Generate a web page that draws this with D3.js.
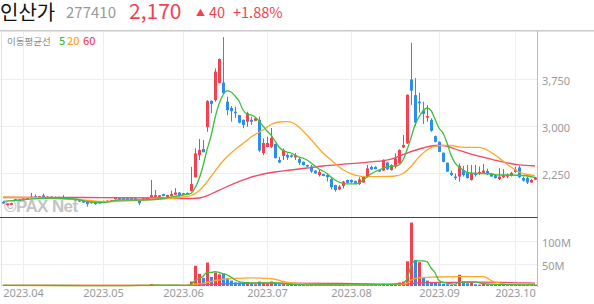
<!DOCTYPE html>
<html>
<head>
<meta charset="utf-8">
<script src="https://cdn.jsdelivr.net/npm/d3@7"></script>
<style>
body { margin: 0; background: #fff; }
svg { display: block; font-family: "Noto Sans CJK KR", "Noto Sans", sans-serif; }
</style>
</head>
<body>
<svg id="chart" width="594" height="304"></svg>
<script>
// daily candles, 2023-03-27 .. 2023-10-12 (one entry per trading day)
var opens = [1780,1730,1735,1825,1820,1810,1820,1840,1870,1840,
  1885,1845,1865,1845,1860,1860,1845,1835,1825,1810,
  1795,1780,1760,1775,1760,1780,1785,1790,1825,1840,
  1840,1840,1840,1840,1795,1815,1830,1855,1860,1860,
  1905,1860,1875,1895,1930,1895,1925,1955,2175,2530,
  2625,2975,3395,3405,3680,3685,3380,3280,3220,3165,
  3090,3060,3090,3075,3090,2560,2655,2660,2705,2450,
  2515,2530,2525,2490,2465,2420,2370,2345,2280,2210,
  2225,2210,2145,2050,1980,2035,2130,2130,2115,2065,
  2090,2185,2340,2340,2290,2280,2410,2290,2345,2395,
  2650,2715,3735,3485,3380,3245,3130,3090,2830,2740,
  2565,2405,2245,2185,2185,2290,2245,2130,2245,2240,
  2245,2275,2235,2205,2145,2175,2185,2195,2260,2330,
  2160,2160,2090,2135];
var highs = [1795,1760,1770,1830,1825,1840,1845,1925,1900,1875,
  1915,1870,1870,1865,1865,1890,1850,1850,1830,1815,
  1800,1790,1790,1785,1785,1800,1805,1810,1860,1845,
  1845,1845,1845,1850,1800,1845,1850,2130,1970,1890,
  1910,1895,1960,2000,1940,1925,1930,2340,2635,2785,
  2770,3405,3400,3910,4070,4410,3460,3310,3300,3170,
  3095,3220,3140,3130,3140,2795,2820,2960,2710,2500,
  2635,2555,2540,2560,2500,2425,2375,2370,2285,2290,
  2230,2235,2160,2055,2050,2115,2135,2140,2120,2175,
  2195,2370,2360,2350,2295,2460,2420,2380,2555,2620,
  2850,3495,4320,3755,3525,3380,3325,3115,2840,2745,
  2570,2410,2280,2235,2395,2355,2370,2370,2370,2345,
  2385,2310,2240,2210,2320,2305,2235,2260,2340,2355,
  2185,2185,2150,2180];
var lows = [1750,1725,1730,1795,1800,1805,1815,1830,1835,1835,
  1825,1840,1850,1840,1845,1825,1830,1830,1800,1780,
  1765,1705,1755,1735,1755,1775,1780,1785,1820,1810,
  1825,1825,1825,1825,1730,1810,1825,1850,1855,1855,
  1870,1855,1870,1890,1865,1890,1900,1945,2170,2450,
  2570,2900,3200,3380,3670,3505,3165,3060,3120,3035,
  2955,2980,3010,3070,2580,2530,2655,2640,2475,2400,
  2450,2450,2490,2450,2370,2360,2340,2245,2230,2185,
  2190,2105,1980,1945,1970,1995,2080,2080,2070,2050,
  2085,2175,2290,2300,2260,2275,2290,2280,2315,2390,
  2635,2705,3325,2990,3205,3025,3060,2900,2730,2575,
  2415,2260,2195,2130,2105,2185,2155,2120,2185,2210,
  2235,2210,2180,2155,2130,2160,2160,2185,2245,2160,
  2105,2065,2085,2130];
var closes = [1760,1755,1760,1805,1805,1835,1840,1865,1840,1870,
  1855,1865,1855,1860,1850,1840,1835,1845,1805,1785,
  1770,1745,1785,1745,1780,1795,1800,1805,1850,1815,
  1830,1830,1830,1830,1760,1840,1845,1890,1890,1885,
  1875,1890,1905,1930,1875,1920,1905,2065,2555,2610,
  2575,3390,3345,3860,4060,3515,3245,3230,3195,3045,
  3010,3195,3060,3115,2600,2720,2720,2800,2480,2410,
  2610,2490,2500,2525,2405,2370,2345,2265,2235,2260,
  2195,2175,2015,1970,2025,2105,2085,2095,2075,2140,
  2185,2315,2300,2305,2265,2450,2300,2370,2475,2610,
  2690,3490,3555,3045,3355,3185,3150,2915,2740,2580,
  2420,2265,2210,2160,2355,2210,2160,2245,2210,2260,
  2280,2225,2185,2160,2185,2210,2210,2245,2300,2175,
  2120,2090,2130,2170];
// volume, millions of shares
var volumes = [1.2,1.0,0.9,1.5,1.1,1.0,0.9,2.2,1.4,1.0,
  1.6,0.9,0.8,0.7,0.8,1.3,0.7,0.6,0.9,1.0,
  1.1,1.5,0.9,1.0,0.7,0.8,0.6,0.6,1.2,0.9,
  0.6,0.5,0.5,0.6,1.3,0.8,0.7,4.5,2.5,1.2,
  1.0,0.9,1.8,2.2,1.5,1.1,1.4,10,45,27,
  18,52,20,30,26,28,18,12,8,8,
  7,9,5,4,10,8,5,10,7,4,
  5,3,2.5,2.5,3,2.5,2,3,2,2,
  1.5,2,3.5,3,2,2.5,1.8,1.5,1.5,2,
  2.5,5,3,2,1.8,5,3.5,2.5,5,8,
  10,55,141,58,53,18,12,9,7,6,
  5,4,3,3,25,10,6,8,4,3,
  5,3,2,2,4,3,2,2.5,3,4,
  2.5,2.5,2,3];

// moving averages: [day index, value]
var ma5 = [[0,1790],[6,1820],[12,1843],[18,1827],[22,1779],[25,1771],[29,1811],[35,1811],
  [39,1827],[43,1867],[45,1891],[47,1918],[48,2003],[49,2146],[50,2354],[51,2609],[52,2832],
  [53,3120],[54,3343],[55,3487],[56,3551],[57,3535],[58,3471],[59,3391],[60,3247],[61,3184],
  [62,3168],[63,3136],[64,3072],[65,2992],[66,2912],[67,2848],[68,2753],[69,2657],[70,2601],
  [71,2577],[72,2561],[73,2529],[74,2497],[75,2481],[76,2449],[77,2402],[78,2354],[79,2306],
  [80,2274],[81,2234],[82,2178],[83,2130],[84,2098],[85,2074],[86,2067],[88,2067],[89,2082],
  [90,2122],[91,2178],[92,2226],[94,2290],[96,2338],[98,2354],[99,2370],[100,2449],[101,2609],
  [102,2801],[103,3008],[104,3136],[105,3231],[106,3279],[107,3239],[108,3104],[109,2960],
  [110,2880],[111,2721],[112,2529],[113,2402],[114,2338],[115,2290],[116,2250],[118,2234],
  [120,2234],[122,2226],[124,2210],[127,2210],[130,2202],[133,2173]];
var ma20 = [[0,1859],[10,1843],[20,1811],[25,1787],[30,1795],[35,1811],[40,1827],[45,1859],
  [47,1883],[50,2019],[52,2186],[55,2433],[57,2561],[60,2713],[62,2816],[65,2928],[67,3016],
  [69,3056],[71,3061],[73,3024],[75,2912],[78,2705],[80,2561],[82,2449],[84,2338],[86,2258],
  [88,2210],[91,2183],[95,2186],[98,2194],[100,2234],[102,2346],[104,2497],[106,2609],
  [108,2665],[110,2684],[112,2681],[114,2660],[117,2652],[119,2652],[121,2609],[123,2529],
  [125,2433],[127,2338],[129,2258],[131,2218],[133,2199]];
var ma60 = [[0,1851],[20,1851],[40,1843],[46,1835],[49,1843],[52,1907],[55,1995],[58,2082],
  [61,2154],[64,2210],[68,2258],[72,2290],[76,2322],[80,2354],[86,2386],[92,2418],[97,2465],
  [101,2561],[105,2641],[108,2681],[110,2681],[113,2625],[117,2545],[121,2481],[125,2418],
  [129,2370],[133,2354]];
var vma5 = [[0,1.2],[10,1.2],[20,1.0],[30,0.8],[36,1.5],[40,2],[46,1.4],[47,3],[48,12],[49,17],
  [50,21],[51,31],[52,30],[53,32],[54,30],[55,27],[56,25],[57,20],[58,14],[59,10],[60,8],
  [62,7],[65,7],[68,7],[70,5.5],[73,3],[80,2.2],[90,2.5],[95,3.5],[99,5],[100,6],[101,16],
  [102,44],[103,56],[104,56],[105,56],[106,54],[107,40],[108,30],[109,12],[110,8],[113,4],
  [114,8],[116,9],[118,9],[120,5],[125,3],[133,2.6]];
var vma20 = [[0,1.3],[20,1.1],[40,1.3],[46,1.5],[48,4],[50,6],[52,10],[55,15],[58,17],[62,18],
  [66,17],[68,15],[70,10],[72,7],[76,4],[80,3],[90,2.5],[99,3.5],[101,6],[102,13],[104,18],
  [108,20],[114,21],[120,21],[121,18],[122,12],[124,7],[126,4],[133,3.5]];
var vma60 = [[0,1.4],[46,1.3],[50,2.5],[55,4.5],[62,6.5],[70,6.5],[85,6],[100,3.5],[104,7],
  [110,8],[120,8.5],[130,7],[133,6.5]];

var tickIdx = [5, 25, 45, 66, 87, 109, 128];
var tickLabels = ["2023.04", "2023.05", "2023.06", "2023.07", "2023.08", "2023.09", "2023.10"];
var priceTicks = [2250, 3000, 3750];
var volTicks = [50, 100];
var maLabels = ["5", "20", "60"];

var UP = "#f5414f", DOWN = "#2b8ef0";
var maColors = ["#3cbf3c", "#ffa726", "#f2486a"];

var svg = d3.select("#chart");
var n = closes.length;
var x = d3.scaleLinear().domain([0, n - 1]).range([3, 3 + 4 * (n - 1)]);
var yP = d3.scaleLinear().domain([2250, 3750]).range([172.5, 78.5]);
var yV = d3.scaleLinear().domain([0, 100]).range([286, 241]);
var right = 537;

// header
var head = svg.append("g");
head.append("text").attr("x", 0).attr("y", 20).attr("font-size", 20).attr("fill", "#111").text("인산가");
head.append("text").attr("x", 66).attr("y", 18).attr("font-size", 15).attr("fill", "#999").text("277410");
head.append("text").attr("x", 129).attr("y", 19).attr("font-size", 21).attr("fill", UP).text("2,170");
head.append("text").attr("x", 196).attr("y", 15.5).attr("font-size", 9).attr("fill", UP).text("▲");
head.append("text").attr("x", 209).attr("y", 18).attr("font-size", 14.5).attr("fill", UP).text("40");
head.append("text").attr("x", 233).attr("y", 18).attr("font-size", 14.5).attr("fill", UP).text("+1.88%");

// frame and grid
svg.append("rect").attr("x", 0).attr("y", 30).attr("width", 594).attr("height", 1.5).attr("fill", "#cacaca");
svg.append("line").attr("x1", 1.5).attr("x2", 1.5).attr("y1", 31).attr("y2", 287).attr("stroke", "#e2e2e2");

var grid = svg.append("g").attr("stroke", "#eeeeee").attr("stroke-width", 1);
grid.selectAll("line.v").data(tickIdx).join("line")
  .attr("x1", d => x(d) + 0.5).attr("x2", d => x(d) + 0.5).attr("y1", 31).attr("y2", 287);
grid.selectAll("line.p").data(priceTicks).join("line").attr("class", "p")
  .attr("x1", 0).attr("x2", right).attr("y1", d => Math.round(yP(d)) + 0.5).attr("y2", d => Math.round(yP(d)) + 0.5);
grid.selectAll("line.vv").data(volTicks).join("line").attr("class", "vv")
  .attr("x1", 0).attr("x2", right).attr("y1", d => Math.round(yV(d)) + 0.5).attr("y2", d => Math.round(yV(d)) + 0.5);

svg.append("line").attr("x1", right + 0.5).attr("x2", right + 0.5).attr("y1", 31).attr("y2", 287).attr("stroke", "#bdbdbd");
svg.append("line").attr("x1", 0).attr("x2", right + 0.5).attr("y1", 217.5).attr("y2", 217.5).attr("stroke", "#444");

// watermark
svg.append("text").attr("x", 4).attr("y", 212).attr("font-family", "Liberation Sans, Arial, sans-serif")
  .attr("font-weight", "bold").attr("font-size", 17).attr("fill", "#c4c4c4").attr("letter-spacing", -0.6)
  .text("©PAX Net");

// legend
var leg = svg.append("g");
leg.append("text").attr("x", 7).attr("y", 45).attr("font-size", 9.5).attr("fill", "#8a8a8a").text("이동평균선");
var legX = [59, 67, 83];
leg.selectAll("text.m").data(maLabels).join("text").attr("class", "m")
  .attr("x", (d, k) => legX[k]).attr("y", 45).attr("font-size", 11).attr("font-weight", 500)
  .attr("fill", (d, k) => maColors[k]).text(d => d);

// candles
var idx = d3.range(n);
var candles = svg.append("g");
candles.selectAll("line").data(idx).join("line")
  .attr("x1", i => x(i) + 0.5).attr("x2", i => x(i) + 0.5)
  .attr("y1", i => yP(highs[i])).attr("y2", i => yP(lows[i]))
  .attr("stroke", i => closes[i] >= opens[i] ? UP : DOWN);
candles.selectAll("rect").data(idx).join("rect")
  .attr("x", i => x(i) - 1).attr("width", 3)
  .attr("y", i => yP(Math.max(opens[i], closes[i])))
  .attr("height", i => Math.max(1.5, Math.abs(yP(opens[i]) - yP(closes[i]))))
  .attr("fill", i => closes[i] >= opens[i] ? UP : DOWN);

// volume bars, coloured against previous close
svg.append("g").selectAll("rect").data(idx).join("rect")
  .attr("x", i => x(i) - 1).attr("width", 3)
  .attr("y", i => yV(volumes[i])).attr("height", i => yV(0) - yV(volumes[i]))
  .attr("fill", i => (i === 0 ? closes[i] >= opens[i] : closes[i] >= closes[i - 1]) ? UP : DOWN);

// moving average lines
var lineP = d3.line().x(d => x(d[0])).y(d => yP(d[1])).curve(d3.curveMonotoneX);
var lineV = d3.line().x(d => x(d[0])).y(d => yV(d[1])).curve(d3.curveMonotoneX);
[ma60, ma20, ma5].forEach(function (s, k) {
  svg.append("path").attr("d", lineP(s)).attr("fill", "none")
    .attr("stroke", maColors[2 - k]).attr("stroke-width", 1.3);
});
[vma60, vma20, vma5].forEach(function (s, k) {
  svg.append("path").attr("d", lineV(s)).attr("fill", "none")
    .attr("stroke", maColors[2 - k]).attr("stroke-width", 1.3);
});

// axes
function styleAxis(g) {
  g.select(".domain").remove();
  g.selectAll("text").attr("fill", "#9a9a9a").attr("font-size", 11)
    .attr("font-family", "Noto Sans, sans-serif");
}
svg.append("g").attr("transform", "translate(0,287)")
  .call(d3.axisBottom(x).tickValues(tickIdx).tickFormat((d, k) => tickLabels[k]).tickSize(0).tickPadding(2.5))
  .call(styleAxis);
svg.append("g").attr("transform", "translate(" + right + ",0)")
  .call(d3.axisRight(yP).tickValues(priceTicks).tickFormat(d3.format(",")).tickSize(0).tickPadding(5))
  .call(styleAxis).selectAll("text").attr("dy", "0.5em");
svg.append("g").attr("transform", "translate(" + right + ",0)")
  .call(d3.axisRight(yV).tickValues(volTicks).tickFormat(d => d + "M").tickSize(0).tickPadding(5))
  .call(styleAxis).selectAll("text").attr("dy", "0.5em");
</script>
</body>
</html>
